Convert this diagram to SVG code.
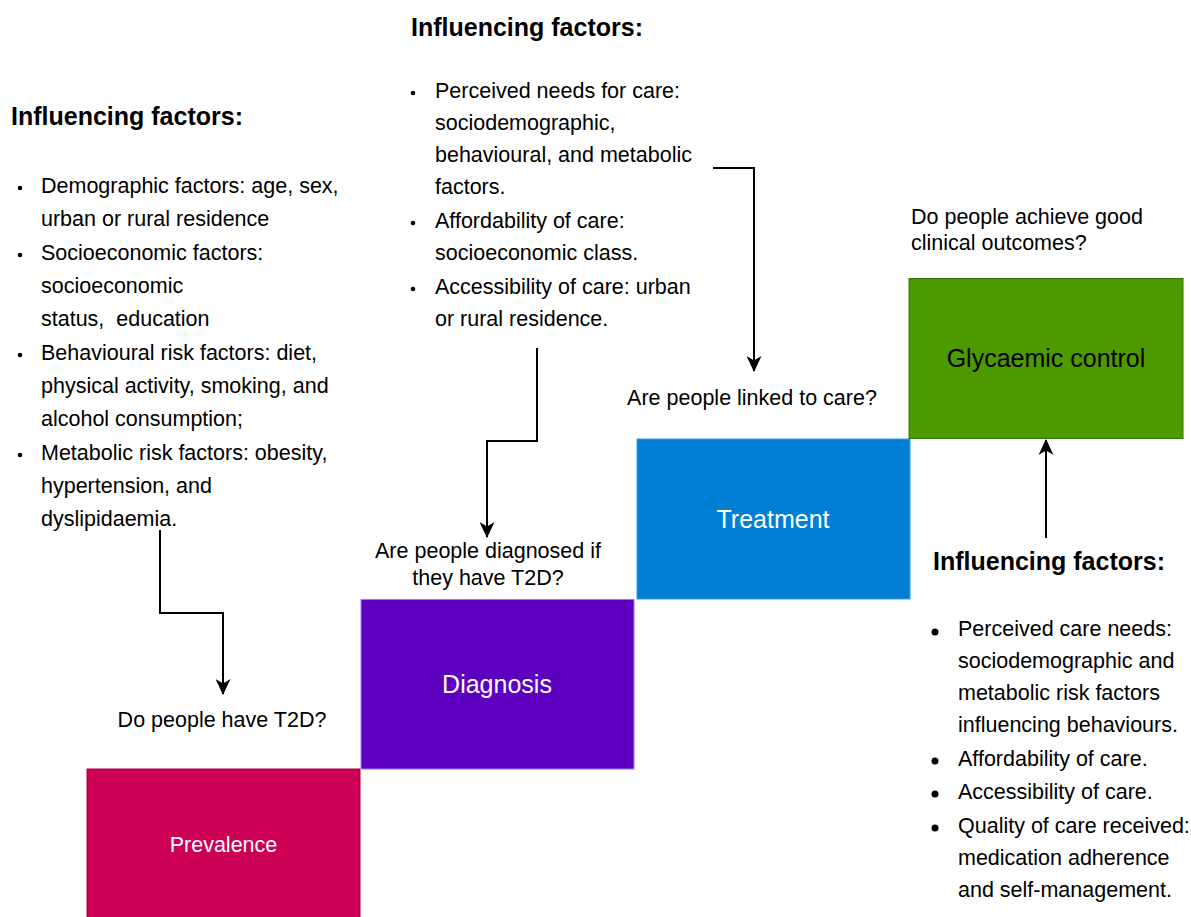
<svg xmlns="http://www.w3.org/2000/svg" width="1191" height="917" viewBox="0 0 1191 917">
<style>
  text { font-family: "Liberation Sans", Arial, sans-serif; fill: #000; }
  .h { font-size: 25px; font-weight: bold; }
  .t { font-size: 21.5px; }
  .q { font-size: 21.5px; text-anchor: middle; }
  .lbl { font-size: 25px; text-anchor: middle; fill: #fff; }
  .conn { fill: none; stroke: #000; stroke-width: 2; }
</style>
<defs>
  <marker id="arr" markerUnits="userSpaceOnUse" viewBox="0 0 16 15" markerWidth="16" markerHeight="15" refX="15" refY="7.5" orient="auto">
    <path d="M0,0 L16,7.5 L0,15 L4.5,7.5 Z" fill="#000"/>
  </marker>
</defs>
<rect width="1191" height="917" fill="#fff"/>

<g id="prevalence">
  <rect x="87" y="769" width="273" height="160" fill="#CC0055" stroke="#A50040" stroke-width="1"/>
  <text class="lbl" x="223.5" y="852" style="font-size:21.5px">Prevalence</text>
</g>
<g id="diagnosis">
  <rect x="361" y="599.5" width="273" height="169.5" fill="#5E00BF" stroke="#8C7FFF" stroke-width="1"/>
  <text class="lbl" x="497" y="693">Diagnosis</text>
</g>
<g id="treatment">
  <rect x="637" y="439" width="273" height="160" fill="#007FD4" stroke="#3D9BE0" stroke-width="1"/>
  <text class="lbl" x="773" y="528">Treatment</text>
</g>
<g id="glycaemic">
  <rect x="909" y="278.5" width="274" height="160" fill="#4D9900" stroke="#2D7600" stroke-width="1"/>
  <text class="lbl" x="1046" y="367" style="fill:#000">Glycaemic control</text>
</g>

<g id="q-prevalence">
  <text class="q" x="222" y="727">Do people have T2D?</text>
</g>
<g id="q-diagnosis">
  <text class="q" x="488" y="558">Are people diagnosed if</text>
  <text class="q" x="488" y="585">they have T2D?</text>
</g>
<g id="q-treatment">
  <text class="q" x="752" y="405">Are people linked to care?</text>
</g>
<g id="q-glycaemic">
  <text class="t" x="911" y="224">Do people achieve good</text>
  <text class="t" x="911" y="250">clinical outcomes?</text>
</g>

<g id="factors-left">
  <text class="h" x="11" y="125">Influencing factors:</text>
  <circle cx="20" cy="188" r="2.3"/>
  <circle cx="20" cy="255" r="2.3"/>
  <circle cx="20" cy="355" r="2.3"/>
  <circle cx="20" cy="455" r="2.3"/>
  <text class="t" x="41" y="193">Demographic factors: age, sex,</text>
  <text class="t" x="41" y="226">urban or rural residence</text>
  <text class="t" x="41" y="260">Socioeconomic factors:</text>
  <text class="t" x="41" y="293">socioeconomic</text>
  <text class="t" x="41" y="326" xml:space="preserve">status,  education</text>
  <text class="t" x="41" y="360">Behavioural risk factors: diet,</text>
  <text class="t" x="41" y="393">physical activity, smoking, and</text>
  <text class="t" x="41" y="426">alcohol consumption;</text>
  <text class="t" x="41" y="460">Metabolic risk factors: obesity,</text>
  <text class="t" x="41" y="493">hypertension, and</text>
  <text class="t" x="41" y="526">dyslipidaemia.</text>
</g>

<g id="factors-top">
  <text class="h" x="411" y="36">Influencing factors:</text>
  <circle cx="413" cy="93" r="2.3"/>
  <circle cx="413" cy="223" r="2.3"/>
  <circle cx="413" cy="289" r="2.3"/>
  <text class="t" x="435" y="98">Perceived needs for care:</text>
  <text class="t" x="435" y="130">sociodemographic,</text>
  <text class="t" x="435" y="162">behavioural, and metabolic</text>
  <text class="t" x="435" y="194">factors.</text>
  <text class="t" x="435" y="228">Affordability of care:</text>
  <text class="t" x="435" y="260">socioeconomic class.</text>
  <text class="t" x="435" y="294">Accessibility of care: urban</text>
  <text class="t" x="435" y="326">or rural residence.</text>
</g>

<g id="factors-right">
  <text class="h" x="933" y="570">Influencing factors:</text>
  <circle cx="935" cy="632" r="3.5"/>
  <circle cx="935" cy="761" r="3.5"/>
  <circle cx="935" cy="794" r="3.5"/>
  <circle cx="935" cy="828" r="3.5"/>
  <text class="t" x="958" y="636">Perceived care needs:</text>
  <text class="t" x="958" y="668">sociodemographic and</text>
  <text class="t" x="958" y="700">metabolic risk factors</text>
  <text class="t" x="958" y="732">influencing behaviours.</text>
  <text class="t" x="958" y="766">Affordability of care.</text>
  <text class="t" x="958" y="799">Accessibility of care.</text>
  <text class="t" x="958" y="833">Quality of care received:</text>
  <text class="t" x="958" y="865">medication adherence</text>
  <text class="t" x="958" y="897">and self-management.</text>
</g>

<g id="connectors">
  <path class="conn" d="M160,530 L160,613 L223,613 L223,694" marker-end="url(#arr)"/>
  <path class="conn" d="M537,348 L537,441 L487,441 L487,537" marker-end="url(#arr)"/>
  <path class="conn" d="M713,168 L754,168 L754,371" marker-end="url(#arr)"/>
  <path class="conn" d="M1046,538 L1046,440" marker-end="url(#arr)"/>
</g>
</svg>
